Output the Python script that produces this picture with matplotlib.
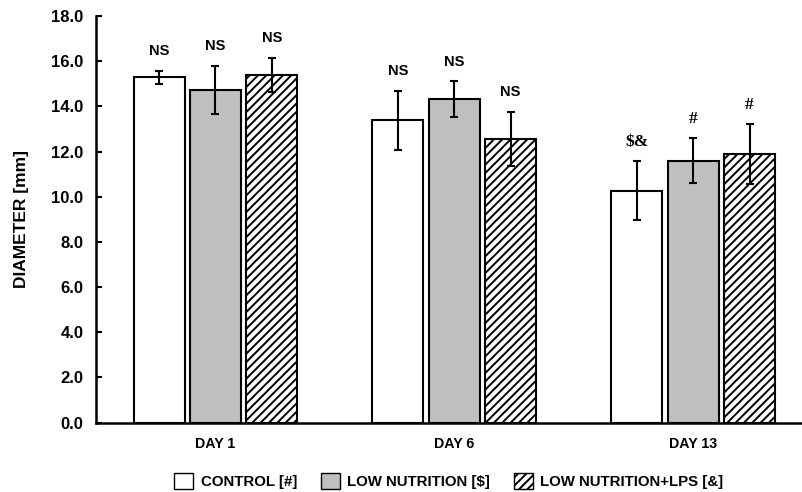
import numpy as np
import matplotlib.pyplot as plt
from matplotlib.patches import Patch

plt.rcParams["font.family"] = ["Liberation Sans", "DejaVu Sans"]
plt.rcParams["font.weight"] = "bold"
plt.rcParams["hatch.linewidth"] = 1.4

days = ["DAY 1", "DAY 6", "DAY 13"]
groups = ["CONTROL [#]", "LOW NUTRITION [$]", "LOW NUTRITION+LPS [&]"]

control = [15.28, 13.39, 10.27]
control_err = [0.30, 1.30, 1.30]
low_nut = [14.72, 14.32, 11.59]
low_nut_err = [1.08, 0.80, 1.00]
low_lps = [15.40, 12.57, 11.89]
low_lps_err = [0.75, 1.20, 1.33]

sig_control = ["NS", "NS", "$&"]
sig_low_nut = ["NS", "NS", "#"]
sig_low_lps = ["NS", "NS", "#"]

fig = plt.figure(figsize=(8.03, 4.92), dpi=100)
ax = fig.add_axes([0.1196, 0.1409, 0.8804, 0.8266])

x = np.arange(len(days))
width = 0.213
step = 0.236
styles = [
    dict(facecolor="white", hatch=None),
    dict(facecolor="#bfbfbf", hatch=None),
    dict(facecolor="white", hatch="////"),
]
series = [
    (control, control_err, sig_control),
    (low_nut, low_nut_err, sig_low_nut),
    (low_lps, low_lps_err, sig_low_lps),
]

for i, ((vals, errs, sigs), st) in enumerate(zip(series, styles)):
    pos = x + (i - 1) * step
    ax.bar(pos, vals, width, color=st["facecolor"], hatch=st["hatch"],
           edgecolor="black", linewidth=1.5, zorder=2)
    ax.errorbar(pos, vals, yerr=errs, fmt="none", ecolor="black",
                elinewidth=1.5, capsize=2.6, capthick=1.5, zorder=3)
    for p, v, e, s in zip(pos, vals, errs, sigs):
        # significance marks other than NS are set in a serif face
        if s == "NS":
            kw = dict(fontsize=10.5)
        else:
            kw = dict(fontsize=12.5, family=["Liberation Serif", "DejaVu Serif"])
        ax.annotate(s, (p, v + e), xytext=(0, 14), textcoords="offset points",
                    ha="center", va="center", fontweight="bold", **kw)

ax.set_xlim(-0.5, 2.46)
ax.set_ylim(0, 18)
ax.set_yticks(np.arange(0, 18.1, 2))
ax.set_yticklabels([f"{t:.1f}" for t in np.arange(0, 18.1, 2)])
ax.set_xticks(x)
ax.set_xticklabels(days, fontsize=10.2)
ax.tick_params(axis="x", length=0, pad=10)
ax.tick_params(axis="y", direction="in", length=4, width=1.5, labelsize=12, pad=9)
ax.set_ylabel("DIAMETER [mm]", fontsize=12.5, fontweight="bold", labelpad=16)

for side in ["top", "right"]:
    ax.spines[side].set_visible(False)
for side in ["left", "bottom"]:
    ax.spines[side].set_linewidth(1.8)

handles = [Patch(facecolor=st["facecolor"], hatch=st["hatch"], edgecolor="black",
                 linewidth=1.0) for st in styles]
fig.legend(handles, groups, loc="center", bbox_to_anchor=(449 / 803, 0.022),
           ncol=3, frameon=False, fontsize=10.8, handlelength=1.25,
           handleheight=1.25, handletextpad=0.5, columnspacing=1.6)

fig.savefig("out.png", dpi=100)
